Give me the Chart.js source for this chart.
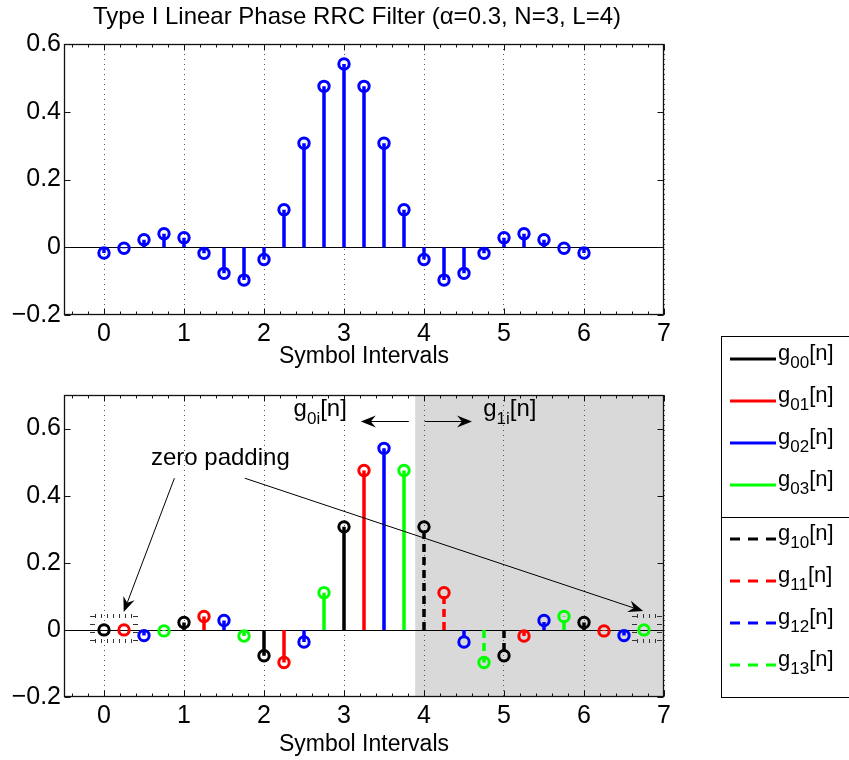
<!DOCTYPE html>
<html>
<head>
<meta charset="utf-8">
<script src="https://cdn.jsdelivr.net/npm/chart.js@4.4.0/dist/chart.umd.min.js"></script>
<style>
  html, body { margin: 0; padding: 0; background: #fff; }
  #wrap { position: relative; width: 849px; height: 760px; }
  canvas { position: absolute; left: 0; }
  #topChart { top: 0; }
  #botChart { top: 330px; }
</style>
</head>
<body>
<div id="wrap">
  <canvas id="topChart" width="849" height="372" style="width:849px;height:372px"></canvas>
  <canvas id="botChart" width="849" height="430" style="width:849px;height:430px"></canvas>
</div>
<script>
const FONT = "'Liberation Sans', Arial, Helvetica, sans-serif";

// ── data ─────────────────────────────────────────────────────────────
// prototype RRC taps, 4 samples per symbol
const tapX = [0, 0.25, 0.5, 0.75, 1, 1.25, 1.5, 1.75, 2, 2.25, 2.5, 2.75, 3,
              3.25, 3.5, 3.75, 4, 4.25, 4.5, 4.75, 5, 5.25, 5.5, 5.75, 6];
const tapY = [-0.017, -0.003, 0.022, 0.040, 0.028, -0.018, -0.077, -0.097, -0.036,
              0.111, 0.307, 0.475, 0.541, 0.475, 0.307, 0.111, -0.036, -0.097,
              -0.077, -0.018, 0.028, 0.040, 0.022, -0.003, -0.017];

// same taps after zero padding, split into polyphase branches g_ij
const polyX = [0, 0.25, 0.5, 0.75, 1, 1.25, 1.5, 1.75, 2, 2.25, 2.5, 2.75, 3, 3.25,
               3.5, 3.75, 4, 4.25, 4.5, 4.75, 5, 5.25, 5.5, 5.75, 6, 6.25, 6.5, 6.75];
const polyY = [0, 0, -0.017, -0.003, 0.022, 0.040, 0.028, -0.018, -0.077, -0.097,
               -0.036, 0.111, 0.307, 0.475, 0.541, 0.475, 0.307, 0.111, -0.036,
               -0.097, -0.077, -0.018, 0.028, 0.040, 0.022, -0.003, -0.017, 0];
const polyBranch = ['00','01','02','03','00','01','02','03','00','01','02','03','00','01',
                    '02','03','10','11','12','13','10','11','12','13','10','11','12','13'];
const branchNames = ['00', '01', '02', '03', '10', '11', '12', '13'];

const xTicks = [0, 1, 2, 3, 4, 5, 6, 7];
const yTicks = [-0.2, 0, 0.2, 0.4, 0.6];

// ── styling ──────────────────────────────────────────────────────────
const PHASE_COLORS = ['#000000', '#ff0000', '#0000ff', '#00ff00'];
const branchColor = b => PHASE_COLORS[+b[1]];
const branchDash  = b => (b[0] === '1' ? [8, 5] : []);

function stems(xs, ys, pick) {
  const pts = [];
  xs.forEach((x, i) => {
    if (!pick(i)) return;
    pts.push({x, y: 0}, {x, y: ys[i], tip: true}, {x, y: null});
  });
  return pts;
}

function stemDataset(label, data, color, dash) {
  return {
    label, data,
    borderColor: color, borderWidth: 3.5, borderDash: dash, borderCapStyle: 'butt',
    spanGaps: false, tension: 0, fill: false,
    pointRadius: c => (c.raw && c.raw.tip ? 5.2 : 0),
    pointHoverRadius: 0, pointHitRadius: 0,
    pointBorderColor: color, pointBorderWidth: 3,
    pointBackgroundColor: 'rgba(0,0,0,0)',
  };
}

const fmtY = v => (Math.abs(v) < 1e-9 ? '0' : (v < 0 ? '\u2212' : '') + Math.abs(v).toFixed(1));

function axes(yMax, xHeight) {
  return {
    x: {
      type: 'linear', min: -0.5, max: 7,
      afterBuildTicks: s => { s.ticks = xTicks.map(v => ({value: v})); },
      afterFit: s => { s.height = xHeight; s.paddingLeft = 0; s.paddingRight = 0; },
      grid: {color: '#555', lineWidth: 1, drawTicks: false},
      border: {display: false, dash: [1, 4]},
      ticks: {color: '#000', font: {family: FONT, size: 25}, padding: 4, maxRotation: 0, autoSkip: false},
      title: {display: true, text: 'Symbol Intervals', color: '#000',
              font: {family: FONT, size: 23}, padding: {top: 0, bottom: 2}},
    },
    y: {
      min: -0.2, max: yMax,
      afterBuildTicks: s => { s.ticks = yTicks.map(v => ({value: v})); },
      afterFit: s => { s.width = 64; s.paddingTop = 0; s.paddingBottom = 0; },
      grid: {display: false, drawTicks: false},
      border: {display: false},
      ticks: {color: '#000', font: {family: FONT, size: 25}, padding: 3, callback: fmtY},
    },
  };
}

// ── shared plugins: zero line, box with inward ticks ─────────────────
const axesBox = {
  id: 'axesBox',
  beforeDatasetsDraw(chart) {
    const {ctx, chartArea: a, scales: {y}} = chart;
    const y0 = Math.round(y.getPixelForValue(0)) + 0.5;
    ctx.save();
    ctx.strokeStyle = '#000';
    ctx.lineWidth = 1;
    ctx.beginPath();
    ctx.moveTo(a.left, y0);
    ctx.lineTo(a.right, y0);
    ctx.stroke();
    ctx.restore();
  },
  afterDraw(chart) {
    const {ctx, chartArea: a, scales: {x, y}} = chart;
    const L = Math.round(a.left) + 0.5, R = Math.round(a.right) - 0.5;
    const T = Math.round(a.top) + 0.5, B = Math.round(a.bottom) - 0.5;
    ctx.save();
    ctx.strokeStyle = '#111';
    ctx.lineWidth = 1.3;
    ctx.strokeRect(L, T, R - L, B - T);
    ctx.lineWidth = 1;
    ctx.beginPath();
    x.ticks.forEach(t => {
      const px = Math.round(x.getPixelForValue(t.value)) + 0.5;
      ctx.moveTo(px, B); ctx.lineTo(px, B - 6);
      ctx.moveTo(px, T); ctx.lineTo(px, T + 6);
    });
    for (let k = 0; k <= 36; k++) {
      const v = -0.4 + 0.2 * k;
      if (Math.abs(v - Math.round(v)) < 1e-6) continue;
      const px = Math.round(x.getPixelForValue(v)) + 0.5;
      ctx.moveTo(px, B); ctx.lineTo(px, B - 3);
      ctx.moveTo(px, T); ctx.lineTo(px, T + 3);
    }
    y.ticks.forEach(t => {
      const py = Math.round(y.getPixelForValue(t.value)) + 0.5;
      ctx.moveTo(L, py); ctx.lineTo(L + 6, py);
      ctx.moveTo(R, py); ctx.lineTo(R - 6, py);
    });
    ctx.stroke();
    ctx.restore();
  },
};

const baseOptions = (padTop, yMax, xHeight) => ({
  responsive: false,
  animation: false,
  events: [],
  layout: {padding: {top: padTop, right: 185, left: 0, bottom: 0}},
  plugins: {legend: {display: false}, tooltip: {enabled: false}, title: {display: false}},
  scales: axes(yMax, xHeight),
});

// ── top: prototype filter ────────────────────────────────────────────
const titlePlugin = {
  id: 'figTitle',
  afterDraw(chart) {
    const ctx = chart.ctx;
    ctx.save();
    ctx.fillStyle = '#000';
    ctx.font = `24px ${FONT}`;
    ctx.textAlign = 'center';
    ctx.textBaseline = 'alphabetic';
    ctx.fillText('Type I Linear Phase RRC Filter (\u03b1=0.3, N=3, L=4)', 357, 24);
    ctx.restore();
  },
};

new Chart(document.getElementById('topChart'), {
  type: 'line',
  data: {datasets: [stemDataset('h[n]', stems(tapX, tapY, () => true), '#0000ff', [])]},
  options: baseOptions(44, 0.6, 57),
  plugins: [axesBox, titlePlugin],
});

// ── bottom: polyphase branches ───────────────────────────────────────
const SHADE_FROM = 3.89;
const padBoxes = [
  {x0: -0.18, x1: 0.42, y0: -0.04, y1: 0.048},
  {x0: 6.6, x1: 6.98, y0: -0.04, y1: 0.048},
];
const arrows = [
  {from: [0.88, 0.452], to: [0.246, 0.053]},
  {from: [1.76, 0.452], to: [6.74, 0.056]},
  {from: [3.81, 0.621], to: [3.21, 0.621]},
  {from: [4.01, 0.621], to: [4.60, 0.621]},
];
const branchTags = [
  {sub: '0i', x: 2.37, y: 0.636},
  {sub: '1i', x: 4.74, y: 0.636},
];

function drawArrow(ctx, x0, y0, x1, y1) {
  const ang = Math.atan2(y1 - y0, x1 - x0);
  const len = 15, half = 6, notch = 5;
  ctx.beginPath();
  ctx.moveTo(x0, y0);
  ctx.lineTo(x1 - Math.cos(ang) * (len - notch), y1 - Math.sin(ang) * (len - notch));
  ctx.stroke();
  ctx.save();
  ctx.translate(x1, y1);
  ctx.rotate(ang);
  ctx.beginPath();
  ctx.moveTo(0, 0);
  ctx.lineTo(-len, -half);
  ctx.lineTo(-len + notch, 0);
  ctx.lineTo(-len, half);
  ctx.closePath();
  ctx.fill();
  ctx.restore();
}

function dottedBox(ctx, L, T, R, B) {
  ctx.beginPath();
  for (let xx = L + 5; xx < R - 3; xx += 6) {
    ctx.moveTo(xx + 0.5, T); ctx.lineTo(xx + 0.5, T + 4);
    ctx.moveTo(xx + 0.5, B); ctx.lineTo(xx + 0.5, B - 4);
  }
  for (let yy = T + 2; yy < B; yy += 8) {
    ctx.moveTo(L, yy + 0.5); ctx.lineTo(L + 5, yy + 0.5);
    ctx.moveTo(R, yy + 0.5); ctx.lineTo(R - 5, yy + 0.5);
  }
  ctx.stroke();
}

// g + subscript + [n]
function drawSubLabel(ctx, sub, x, base, size, subSize, subDrop) {
  ctx.font = `${size}px ${FONT}`;
  ctx.fillText('g', x, base);
  let w = ctx.measureText('g').width;
  ctx.font = `${subSize}px ${FONT}`;
  ctx.fillText(sub, x + w, base + subDrop);
  w += ctx.measureText(sub).width;
  ctx.font = `${size}px ${FONT}`;
  ctx.fillText('[n]', x + w, base);
}

const shade = {
  id: 'shade',
  beforeDraw(chart) {
    const {ctx, chartArea: a, scales: {x}} = chart;
    const left = x.getPixelForValue(SHADE_FROM);
    ctx.save();
    ctx.fillStyle = '#d9d9d9';
    ctx.fillRect(left, a.top, a.right - left, a.bottom - a.top);
    ctx.restore();
  },
};

const notes = {
  id: 'notes',
  afterDatasetsDraw(chart) {
    const {ctx, scales: {x, y}} = chart;
    ctx.save();
    ctx.strokeStyle = '#333';
    ctx.lineWidth = 1;
    padBoxes.forEach(b => dottedBox(ctx,
      Math.round(x.getPixelForValue(b.x0)), Math.round(y.getPixelForValue(b.y1)),
      Math.round(x.getPixelForValue(b.x1)), Math.round(y.getPixelForValue(b.y0))));
    ctx.strokeStyle = '#000';
    ctx.fillStyle = '#000';
    arrows.forEach(a => drawArrow(ctx,
      x.getPixelForValue(a.from[0]), y.getPixelForValue(a.from[1]),
      x.getPixelForValue(a.to[0]), y.getPixelForValue(a.to[1])));
    ctx.textAlign = 'left';
    ctx.textBaseline = 'middle';
    ctx.font = `24px ${FONT}`;
    ctx.fillText('zero padding', x.getPixelForValue(0.587), y.getPixelForValue(0.512));
    ctx.textBaseline = 'alphabetic';
    branchTags.forEach(t => drawSubLabel(ctx, t.sub,
      x.getPixelForValue(t.x), y.getPixelForValue(t.y), 24, 17, 8));
    ctx.restore();
  },
};

const LEGEND = {
  left: 721, right: 849, top: 6, bottom: 367, divider: 187,
  rows: [29, 71, 113, 155, 209, 251, 293, 335],
  lineFrom: 730, lineTo: 776, textX: 778,
};

const branchLegend = {
  id: 'branchLegend',
  afterDraw(chart) {
    const ctx = chart.ctx;
    const g = LEGEND;
    ctx.save();
    ctx.fillStyle = '#fff';
    ctx.fillRect(g.left, g.top, g.right - g.left, g.bottom - g.top);
    ctx.strokeStyle = '#000';
    ctx.lineWidth = 1;
    ctx.strokeRect(g.left + 0.5, g.top + 0.5, g.right - g.left, g.bottom - g.top);
    ctx.beginPath();
    ctx.moveTo(g.left, g.divider + 0.5);
    ctx.lineTo(g.right, g.divider + 0.5);
    ctx.stroke();
    chart.data.datasets.forEach((ds, i) => {
      const yy = g.rows[i];
      ctx.strokeStyle = ds.borderColor;
      ctx.lineWidth = 3;
      ctx.setLineDash(ds.borderDash.length ? [10, 8] : []);
      ctx.beginPath();
      ctx.moveTo(g.lineFrom, yy);
      ctx.lineTo(g.lineTo, yy);
      ctx.stroke();
      ctx.setLineDash([]);
      ctx.fillStyle = '#000';
      ctx.textAlign = 'left';
      ctx.textBaseline = 'alphabetic';
      drawSubLabel(ctx, ds.label, g.textX, yy + 1, 22, 17, 8);
    });
    ctx.restore();
  },
};

new Chart(document.getElementById('botChart'), {
  type: 'line',
  data: {
    datasets: branchNames.map(b => stemDataset(b,
      stems(polyX, polyY, i => polyBranch[i] === b), branchColor(b), branchDash(b))),
  },
  options: baseOptions(65, 0.7, 63),
  plugins: [shade, axesBox, notes, branchLegend],
});
</script>
</body>
</html>
